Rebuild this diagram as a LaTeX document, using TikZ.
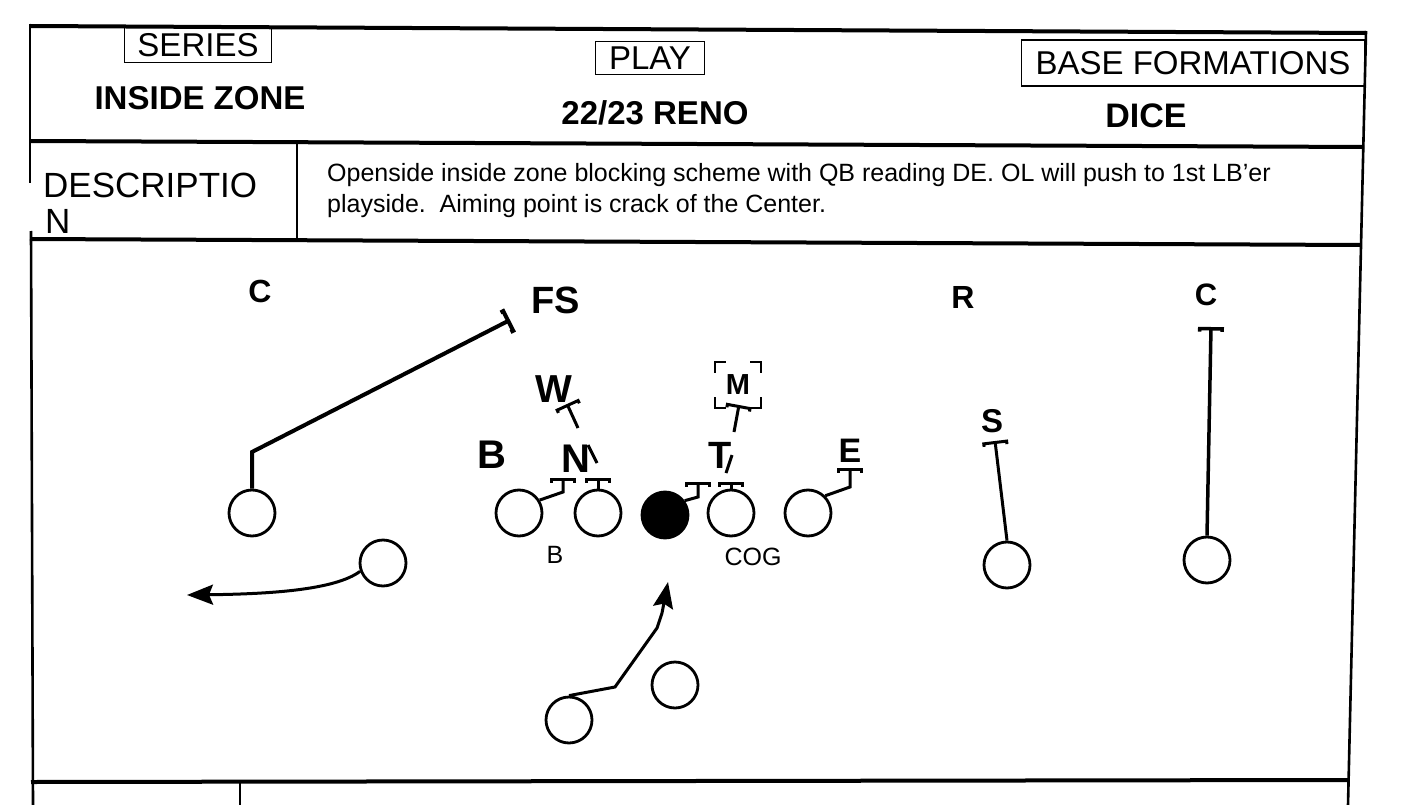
\documentclass[tikz,border=0pt]{standalone}
\usepackage{fontspec}
\setmainfont{Liberation Sans}
\usetikzlibrary{arrows.meta}

\begin{document}
\begin{tikzpicture}[
        x=1pt, y=-1pt,
        hline/.style={line width=4pt},
        vline/.style={line width=2.6pt},
        tag/.style={draw, line width=1.8pt, inner sep=0pt, font=\fontsize{33}{33}\selectfont},
        headline/.style={anchor=base, inner sep=0pt, font=\bfseries\fontsize{33}{33}\selectfont},
        note/.style={anchor=base, inner sep=0pt, font=\fontsize{25}{25}\selectfont},
        player/.style={circle, draw, line width=2.8pt, minimum size=46pt, inner sep=0pt},
        deflbl/.style={anchor=base, inner sep=0pt, font=\bfseries\fontsize{#1}{#1}\selectfont},
        deflbl/.default=38,
        blk/.style={line width=3pt, -{Bracket[width=26pt, length=3pt]}},
        run/.style={line width=3pt, -{Stealth[length=26pt, width=20pt, inset=4pt]}}
    ]
        \useasboundingbox (0,0) rectangle (1423,805);
        % form frame
        \draw[hline] (30,26) -- (1366,33);
        \draw[hline] (30,141) -- (1364,147);
        \draw[hline] (30,239) -- (1361,245);
        \draw[hline] (31,782) -- (1349,780);
        \draw[vline] (30,24) -- (30,183);
        \draw[vline] (31,231) -- (33,805);
        \draw[vline] (1366,31) -- (1348,805);
        \draw[vline] (297,143) -- (297,240);
        \draw[vline] (240,782) -- (240,805);

        % header
        \node[tag, minimum width=147pt, minimum height=35pt] (series) at (198,45) {SERIES};
        \node[headline] (seriesname) at (200,110) {INSIDE ZONE};
        \node[tag, minimum width=109pt, minimum height=33pt] (play) at (650,58) {PLAY};
        \node[headline] (playname) at (655,125) {22/23 RENO};
        \node[tag, minimum width=343pt, minimum height=46pt] (formation) at (1193,63) {BASE FORMATIONS};
        \node[headline, font=\bfseries\fontsize{34}{34}\selectfont] (formname) at (1146,128) {DICE};

        % description
        \node[anchor=base west, inner sep=0pt, font=\fontsize{35}{35}\selectfont] (desclbl) at (43,197) {DESCRIPTIO};
        \node[anchor=base west, inner sep=0pt, font=\fontsize{35}{35}\selectfont] (desclbl2) at (45,233) {N};
        \node[note, anchor=base west] (desc1) at (327,182) {Openside inside zone blocking scheme with QB reading DE. OL will push to 1st LB'er};
        \node[note, anchor=base west] (desc2) at (327,212) {playside.\ \ Aiming point is crack of the Center.};

        % offense
        \node[player] (wrl) at (252,513) {};
        \node[player] (slot) at (383,563) {};
        \node[player] (lt) at (519,513) {};
        \node[player] (lg) at (598,513) {};
        \node[player, fill=black] (ctr) at (665,515) {};
        \node[player] (rg) at (731,513) {};
        \node[player] (rt) at (808,513) {};
        \node[player] (te) at (1007,565) {};
        \node[player] (wrr) at (1207,560) {};
        \node[player] (tb) at (569,720) {};
        \node[player] (qb) at (675,685) {};
        \node[note] (ltlbl) at (555,563) {B};
        \node[note] (rglbl) at (753,565) {COG};

        % defense
        \node[deflbl=32] (cbl) at (260,302) {C};
        \node[deflbl=38] (fs) at (556,313) {FS};
        \node[deflbl=32] (rov) at (963,308) {R};
        \node[deflbl=31] (cbr) at (1206,305) {C};
        \node[deflbl=39] (will) at (554,402) {W};
        \node[deflbl=40] (bdef) at (492,468) {B};
        \node[deflbl=40] (nose) at (576,472) {N};
        \node[deflbl=38] (tack) at (720,468) {T};
        \node[deflbl=34] (dend) at (850,462) {E};
        \node[deflbl=33] (ss) at (992,432) {S};
        \node[inner sep=0pt, minimum size=46pt, font=\bfseries\fontsize{29}{29}\selectfont] (mike) at (738,385) {M};
        \foreach \c/\sx/\sy in {north west/1/-1, north east/-1/-1, south west/1/1, south east/-1/1}
            \draw[line width=2.5pt] ([xshift=\sx*11pt]mike.\c) -- (mike.\c) -- ([yshift=\sy*11pt]mike.\c);

        % blocks
        \coordinate (wrlbend) at (252,452);
        \coordinate (fsblk) at (510,320);
        \draw[blk, line width=4pt] (wrl.north) -- (wrlbend) -- (fsblk);
        \coordinate (ltk) at (563,492);
        \coordinate (ltblk) at (563,478);
        \draw[blk] (lt.32) -- (ltk) -- (ltblk);
        \coordinate (lgblk) at (598,478);
        \draw[blk] (lg.north) -- (lgblk);
        \coordinate (ctrk) at (698,497);
        \coordinate (ctrblk) at (698,482);
        \draw[blk] (ctr.36) -- (ctrk) -- (ctrblk);
        \coordinate (rgblk) at (731,482);
        \draw[blk] (rg.north) -- (rgblk);
        \coordinate (rtk) at (850,487);
        \coordinate (rtblk) at (850,468);
        \draw[blk] (rt.45) -- (rtk) -- (rtblk);
        \coordinate (wlnk) at (578,428);
        \coordinate (wblk) at (567,404);
        \draw[blk] (wlnk) -- (wblk);
        \coordinate (nlnk) at (597,463);
        \coordinate (ntop) at (588,445);
        \draw[line width=3pt] (nlnk) -- (ntop);
        \coordinate (tlnk) at (726,473);
        \coordinate (ttop) at (732,455);
        \draw[line width=3pt] (tlnk) -- (ttop);
        \coordinate (mlnk) at (734,432);
        \coordinate (mblk) at (739,405);
        \draw[blk] (mlnk) -- (mblk);
        \coordinate (ssblk) at (995,441);
        \draw[blk] (te.north) -- (ssblk);
        \coordinate (cbrblk) at (1211,327);
        \draw[blk, line width=3.5pt] (wrr.north) -- (cbrblk);

        % runs
        \coordinate (slotend) at (187,595);
        \draw[run] (slot.200) .. controls (335,590) and (270,594) .. (slotend);
        \coordinate (tbk1) at (615,687);
        \coordinate (tbk2) at (657,628);
        \coordinate (tbk3) at (662,613);
        \coordinate (tbend) at (668,582);
        \draw[run] (tb.north) -- (tbk1) -- (tbk2) -- (tbk3) -- (tbend);
    \end{tikzpicture}
\end{document}
